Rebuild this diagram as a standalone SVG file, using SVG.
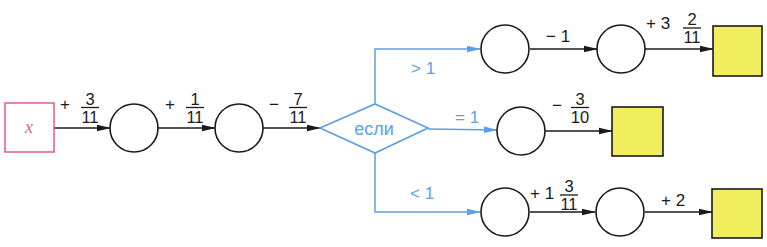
<svg xmlns="http://www.w3.org/2000/svg" width="767" height="247" viewBox="0 0 767 247">
<style>
.c{fill:#fff;stroke:#1a1a1a;stroke-width:1.6}
.y{fill:#f2ef5e;stroke:#1a1a1a;stroke-width:1.6}
.l{fill:none;stroke:#1a1a1a;stroke-width:1.5}
.b{fill:none;stroke:#5d9fe3;stroke-width:1.5}
.t{font-family:"Liberation Sans",Arial,sans-serif;font-size:17px;fill:#1a1a1a}
.f{font-family:"Liberation Sans",Arial,sans-serif;font-size:16.5px;fill:#1a1a1a;text-anchor:middle}
.bt{font-family:"Liberation Sans",Arial,sans-serif;font-size:17px;fill:#5d9fe3}
.bar{stroke:#1a1a1a;stroke-width:1.3}
</style>
<defs>
<marker id="ak" markerWidth="14" markerHeight="8" refX="13" refY="4" orient="auto" markerUnits="userSpaceOnUse"><path d="M0,0.8 L14,4 L0,7.2 z" fill="#1a1a1a"/></marker>
<marker id="ab" markerWidth="14" markerHeight="8" refX="13" refY="4" orient="auto" markerUnits="userSpaceOnUse"><path d="M0,0.8 L14,4 L0,7.2 z" fill="#5d9fe3"/></marker>
</defs>
<g id="connectors">
<line class="l" x1="54" y1="128" x2="110" y2="128" marker-end="url(#ak)"/>
<line class="l" x1="158" y1="128" x2="215" y2="128" marker-end="url(#ak)"/>
<line class="l" x1="263" y1="128" x2="320" y2="128" marker-end="url(#ak)"/>
<polyline class="b" points="375,104 375,49 480,49" marker-end="url(#ab)"/>
<line class="b" x1="428" y1="129" x2="497" y2="130" marker-end="url(#ab)"/>
<polyline class="b" points="375,153 375,212 480,212" marker-end="url(#ab)"/>
<line class="l" x1="530" y1="49" x2="597" y2="49" marker-end="url(#ak)"/>
<line class="l" x1="645" y1="49" x2="713" y2="49" marker-end="url(#ak)"/>
<line class="l" x1="545" y1="131" x2="612" y2="131" marker-end="url(#ak)"/>
<line class="l" x1="530" y1="212" x2="595" y2="212" marker-end="url(#ak)"/>
<line class="l" x1="645" y1="212" x2="712" y2="212" marker-end="url(#ak)"/>
<text class="t" x="60" y="110">+</text>
<text class="f" x="90" y="105">3</text><line class="bar" x1="81" y1="107.5" x2="99" y2="107.5"/><text class="f" x="90" y="123">11</text>
<text class="t" x="165" y="110">+</text>
<text class="f" x="195" y="105">1</text><line class="bar" x1="186" y1="107.5" x2="204" y2="107.5"/><text class="f" x="195" y="123">11</text>
<text class="t" x="269" y="110">−</text>
<text class="f" x="298" y="105">7</text><line class="bar" x1="289" y1="107.5" x2="307" y2="107.5"/><text class="f" x="298" y="123">11</text>
<text class="bt" x="411" y="74">&gt;  1</text>
<text class="bt" x="455" y="123">=  1</text>
<text class="bt" x="410" y="199">&lt;  1</text>
<text class="t" x="546" y="42">−  1</text>
<text class="t" x="646" y="29">+ 3</text>
<text class="f" x="692" y="25">2</text><line class="bar" x1="683" y1="28" x2="701" y2="28"/><text class="f" x="692" y="43">11</text>
<text class="t" x="552" y="111">−</text>
<text class="f" x="580" y="105">3</text><line class="bar" x1="571" y1="107.5" x2="589" y2="107.5"/><text class="f" x="580" y="123">10</text>
<text class="t" x="530" y="199">+ 1</text>
<text class="f" x="569" y="192">3</text><line class="bar" x1="560" y1="195" x2="578" y2="195"/><text class="f" x="569" y="210">11</text>
<text class="t" x="661" y="206">+ 2</text>
</g>
<g id="x"><rect x="5" y="103" width="49" height="49" fill="#fff" stroke="#e064a2" stroke-width="1.6"/><text x="29" y="133" font-family="Liberation Serif,serif" font-style="italic" font-size="18" fill="#e064a2" text-anchor="middle">x</text></g>
<g id="n1"><circle class="c" cx="134" cy="128" r="24"/></g>
<g id="n2"><circle class="c" cx="239" cy="128" r="24"/></g>
<g id="if"><polygon points="320,128 375,104 428,128 375,153" fill="#fff" stroke="#5d9fe3" stroke-width="1.6"/><text x="374" y="135" font-family="Liberation Sans,Arial,sans-serif" font-size="18" fill="#5d9fe3" text-anchor="middle">если</text></g>
<g id="a1"><circle class="c" cx="505" cy="49" r="24"/></g>
<g id="a2"><circle class="c" cx="621" cy="49" r="24"/></g>
<g id="a3"><rect class="y" x="713" y="26" width="49" height="50"/></g>
<g id="b1"><circle class="c" cx="521" cy="131" r="24"/></g>
<g id="b2"><rect class="y" x="612" y="107" width="51" height="49"/></g>
<g id="c1"><circle class="c" cx="505" cy="212" r="24"/></g>
<g id="c2"><circle class="c" cx="620" cy="212" r="24"/></g>
<g id="c3"><rect class="y" x="712" y="189" width="50" height="49"/></g>
</svg>
